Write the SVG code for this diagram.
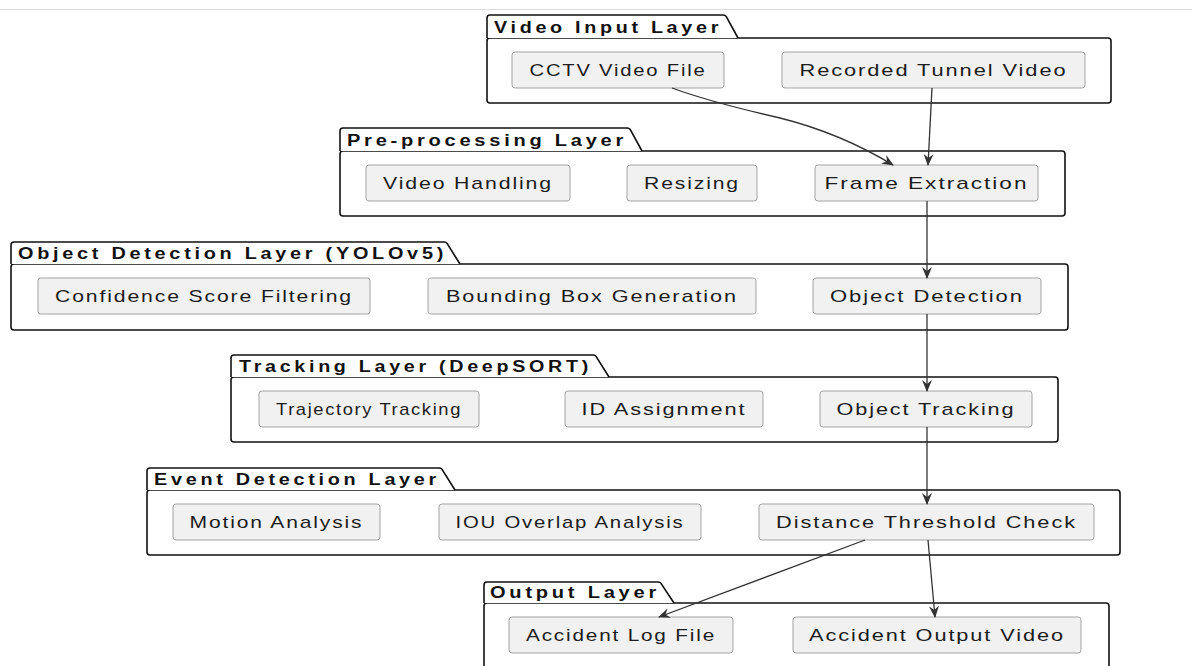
<svg xmlns="http://www.w3.org/2000/svg" width="1192" height="666" viewBox="0 0 1192 666">
<defs>
<style>
.pkg{fill:#fff;stroke:#111;stroke-width:1.6}
.node{fill:#f1f1f1;stroke:#a3a3a3;stroke-width:1}
.nt{font-family:"Liberation Sans",Arial,sans-serif;font-size:17px;letter-spacing:1.5px;fill:#1c1c1c;text-anchor:middle}
.pt{font-family:"Liberation Sans",Arial,sans-serif;font-size:16px;letter-spacing:3px;font-weight:bold;fill:#111}
.edge{fill:none;stroke:#333;stroke-width:1.3;marker-end:url(#arr)}
</style>
<marker id="arr" viewBox="0 0 12 10" refX="11" refY="5" markerWidth="12" markerHeight="10" markerUnits="userSpaceOnUse" orient="auto">
<path d="M0,0 L12,5 L0,10 L4,5 Z" fill="#333"/>
</marker>
</defs>
<rect width="1192" height="666" fill="#fff"/>
<line x1="0" y1="9.5" x2="1192" y2="9.5" stroke="#dcdcdc" stroke-width="1"/>

<g id="pkg-video-input">
<rect class="pkg" x="487" y="38" width="624" height="65" rx="3"/>
<path class="pkg" d="M487,38 L487,18 Q487,15 490,15 L723,15 Q726,15 727,18 L738,38"/>
<text class="pt" x="494" y="33" textLength="228" lengthAdjust="spacingAndGlyphs">Video Input Layer</text>
</g>
<g id="pkg-preprocessing">
<rect class="pkg" x="340" y="151" width="725" height="65" rx="3"/>
<path class="pkg" d="M340,151 L340,131 Q340,128 343,128 L627,128 Q630,128 631,131 L642,151"/>
<text class="pt" x="347" y="146" textLength="280" lengthAdjust="spacingAndGlyphs">Pre-processing Layer</text>
</g>
<g id="pkg-object-detection">
<rect class="pkg" x="11" y="264" width="1057" height="66" rx="3"/>
<path class="pkg" d="M11,264 L11,245 Q11,242 14,242 L444,242 Q447,242 448,245 L460,264"/>
<text class="pt" x="18" y="259" textLength="429" lengthAdjust="spacingAndGlyphs">Object Detection Layer (YOLOv5)</text>
</g>
<g id="pkg-tracking">
<rect class="pkg" x="231" y="377" width="827" height="65" rx="3"/>
<path class="pkg" d="M231,377 L231,358 Q231,355 234,355 L593,355 Q596,355 597,358 L609,377"/>
<text class="pt" x="239" y="372" textLength="353" lengthAdjust="spacingAndGlyphs">Tracking Layer (DeepSORT)</text>
</g>
<g id="pkg-event-detection">
<rect class="pkg" x="147" y="490" width="973" height="65" rx="3"/>
<path class="pkg" d="M147,490 L147,471 Q147,468 150,468 L439,468 Q442,468 443,471 L455,490"/>
<text class="pt" x="154" y="485" textLength="286" lengthAdjust="spacingAndGlyphs">Event Detection Layer</text>
</g>
<g id="pkg-output">
<rect class="pkg" x="484" y="603" width="625" height="80" rx="3"/>
<path class="pkg" d="M484,603 L484,585 Q484,582 487,582 L658,582 Q661,582 662,585 L674,603"/>
<text class="pt" x="490" y="598" textLength="170" lengthAdjust="spacingAndGlyphs">Output Layer</text>
</g>

<g id="n-cctv"><rect class="node" x="512" y="52" width="212" height="36" rx="3"/><text class="nt" x="618" y="76" textLength="177" lengthAdjust="spacingAndGlyphs">CCTV Video File</text></g>
<g id="n-recorded"><rect class="node" x="782" y="52" width="303" height="36" rx="3"/><text class="nt" x="933.5" y="76" textLength="268" lengthAdjust="spacingAndGlyphs">Recorded Tunnel Video</text></g>

<g id="n-video-handling"><rect class="node" x="366" y="165" width="204" height="36" rx="3"/><text class="nt" x="468" y="189" textLength="170" lengthAdjust="spacingAndGlyphs">Video Handling</text></g>
<g id="n-resizing"><rect class="node" x="627" y="165" width="130" height="36" rx="3"/><text class="nt" x="692" y="189" textLength="96" lengthAdjust="spacingAndGlyphs">Resizing</text></g>
<g id="n-frame-extraction"><rect class="node" x="815" y="165" width="223" height="36" rx="3"/><text class="nt" x="926.5" y="189" textLength="204" lengthAdjust="spacingAndGlyphs">Frame Extraction</text></g>

<g id="n-confidence"><rect class="node" x="38" y="278" width="332" height="36" rx="3"/><text class="nt" x="204" y="302" textLength="298" lengthAdjust="spacingAndGlyphs">Confidence Score Filtering</text></g>
<g id="n-bounding-box"><rect class="node" x="428" y="278" width="328" height="36" rx="3"/><text class="nt" x="592" y="302" textLength="292" lengthAdjust="spacingAndGlyphs">Bounding Box Generation</text></g>
<g id="n-object-detection"><rect class="node" x="813" y="278" width="228" height="36" rx="3"/><text class="nt" x="927" y="302" textLength="194" lengthAdjust="spacingAndGlyphs">Object Detection</text></g>

<g id="n-trajectory"><rect class="node" x="259" y="391" width="220" height="36" rx="3"/><text class="nt" x="369" y="415" textLength="186" lengthAdjust="spacingAndGlyphs">Trajectory Tracking</text></g>
<g id="n-id-assignment"><rect class="node" x="565" y="391" width="198" height="36" rx="3"/><text class="nt" x="664" y="415" textLength="165" lengthAdjust="spacingAndGlyphs">ID Assignment</text></g>
<g id="n-object-tracking"><rect class="node" x="820" y="391" width="212" height="36" rx="3"/><text class="nt" x="926" y="415" textLength="179" lengthAdjust="spacingAndGlyphs">Object Tracking</text></g>

<g id="n-motion"><rect class="node" x="173" y="504" width="207" height="36" rx="3"/><text class="nt" x="276.5" y="528" textLength="174" lengthAdjust="spacingAndGlyphs">Motion Analysis</text></g>
<g id="n-iou"><rect class="node" x="439" y="504" width="262" height="36" rx="3"/><text class="nt" x="570" y="528" textLength="229" lengthAdjust="spacingAndGlyphs">IOU Overlap Analysis</text></g>
<g id="n-distance"><rect class="node" x="759" y="504" width="335" height="36" rx="3"/><text class="nt" x="926.5" y="528" textLength="301" lengthAdjust="spacingAndGlyphs">Distance Threshold Check</text></g>

<g id="n-log"><rect class="node" x="509" y="617" width="224" height="36" rx="3"/><text class="nt" x="621" y="641" textLength="190" lengthAdjust="spacingAndGlyphs">Accident Log File</text></g>
<g id="n-output-video"><rect class="node" x="793" y="617" width="288" height="36" rx="3"/><text class="nt" x="937" y="641" textLength="256" lengthAdjust="spacingAndGlyphs">Accident Output Video</text></g>

<g id="connectors">
<path class="edge" d="M672,88 C705,100 745,110 780,118 C820,128 860,145 893,165"/>
<path class="edge" d="M932,88 L928,165"/>
<path class="edge" d="M927,201 L927,278"/>
<path class="edge" d="M927,314 L927,391"/>
<path class="edge" d="M927,427 L927,504"/>
<path class="edge" d="M865,540 L659,617"/>
<path class="edge" d="M928,540 L935,617"/>
</g>
</svg>
